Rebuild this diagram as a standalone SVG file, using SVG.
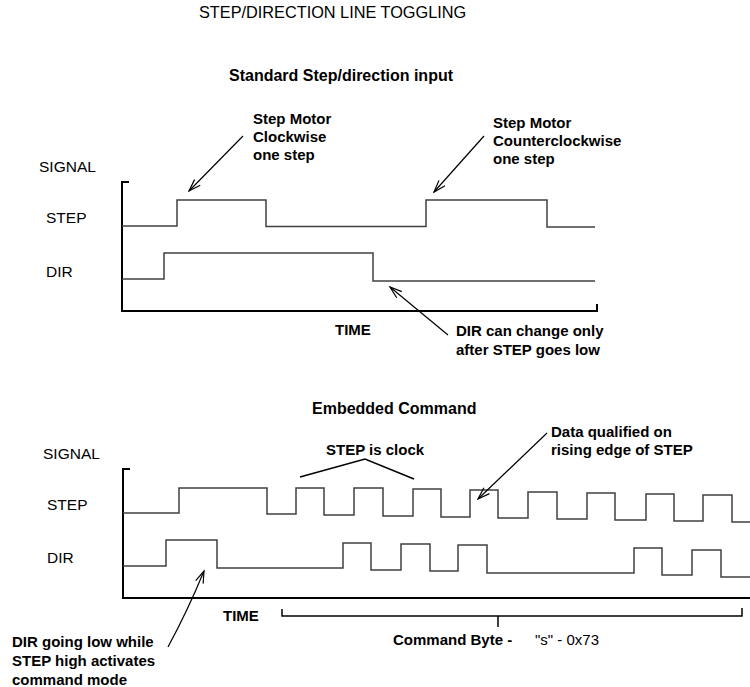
<svg xmlns="http://www.w3.org/2000/svg" width="750" height="687" viewBox="0 0 750 687">
<defs>
<style>
.t{font-family:"Liberation Sans",Arial,sans-serif;fill:#000}
.reg{font-size:15.5px}
.ttl{font-size:16.3px}
.hd{font-size:16px;font-weight:bold}
.an{font-size:15px;font-weight:bold}
.axis{fill:none;stroke:#000;stroke-width:2}
.sig{fill:none;stroke:#404040;stroke-width:1.5}
.arr{fill:none;stroke:#000;stroke-width:1.2;marker-end:url(#ah)}
.br{fill:none;stroke:#000;stroke-width:1.5}
</style>
<marker id="ah" viewBox="-13 -6 15 12" refX="0" refY="0" markerWidth="15" markerHeight="12" markerUnits="userSpaceOnUse" orient="auto">
<path d="M-12,-4 L0,0 L-12,4" fill="none" stroke="#000" stroke-width="1.2"/>
</marker>
</defs>
<rect width="750" height="687" fill="#fff"/>

<g id="title"><text class="t ttl" x="199" y="18">STEP/DIRECTION LINE TOGGLING</text></g>

<g id="standard-heading"><text class="t hd" x="229" y="81">Standard Step/direction input</text></g>

<g id="top-labels">
<text class="t reg" x="39" y="172">SIGNAL</text>
<text class="t reg" x="46" y="223">STEP</text>
<text class="t reg" x="46" y="277">DIR</text>
<text class="t an" x="335" y="335">TIME</text>
</g>

<g id="top-axes">
<path class="axis" d="M129,182 H122 V311 H597 V304"/>
</g>

<g id="top-step">
<path class="sig" d="M122,226 H177 V200 H266 V226.5 H426 V200 H547 V227 H595"/>
</g>

<g id="top-dir">
<path class="sig" d="M122,279 H164 V253 H373 V281 H595"/>
</g>

<g id="note-cw">
<text class="t an" x="253" y="124">Step Motor</text>
<text class="t an" x="253" y="142">Clockwise</text>
<text class="t an" x="253" y="160">one step</text>
</g>

<g id="note-ccw">
<text class="t an" x="493" y="128">Step Motor</text>
<text class="t an" x="493" y="146">Counterclockwise</text>
<text class="t an" x="493" y="164">one step</text>
</g>

<g id="note-dir">
<text class="t an" x="456" y="336">DIR can change only</text>
<text class="t an" x="456" y="355">after STEP goes low</text>
</g>

<g id="embedded-heading"><text class="t hd" x="312" y="414">Embedded Command</text></g>

<g id="bottom-labels">
<text class="t reg" x="43" y="459">SIGNAL</text>
<text class="t reg" x="47" y="510">STEP</text>
<text class="t reg" x="47" y="563">DIR</text>
<text class="t an" x="223" y="621">TIME</text>
</g>

<g id="bottom-axes">
<path class="axis" d="M130,469 H123 V598 H750"/>
</g>

<g id="bottom-step">
<path class="sig" d="M123,513 H179 V488 H267 V514 H296 V488 H324 V515 H354 V488 H383 V516 H413 V489 H441 V517 H470 V490 H498 V518 H528 V492 H557 V519 H587 V493 H615 V520 H646 V494 H674 V521 H703 V495 H732 V522 H750"/>
</g>

<g id="bottom-dir">
<path class="sig" d="M123,566 H166 V540 H217 V568 H343 V543 H371 V570 H401 V544 H430 V571 H458 V545 H487 V573 H634 V548 H662 V575 H692 V550 H721 V577 H750"/>
</g>

<g id="note-clock">
<text class="t an" x="326" y="455">STEP is clock</text>
<path class="br" d="M300,477 L365,459 L414,479"/>
</g>

<g id="note-data">
<text class="t an" x="551" y="437">Data qualified on</text>
<text class="t an" x="551" y="455">rising edge of STEP</text>
</g>

<g id="note-cmdmode">
<text class="t an" x="12" y="647">DIR going low while</text>
<text class="t an" x="12" y="666">STEP high activates</text>
<text class="t an" x="12" y="685">command mode</text>
</g>

<g id="command-byte">
<path class="br" d="M282,609 V616 H742 V608 M498,616 V627"/>
<text class="t an" x="393" y="645">Command Byte -</text>
<text class="t" style="font-size:15px" x="535" y="645">"s" - 0x73</text>
</g>

<g id="connectors">
<path class="arr" d="M243,136 L189,191"/>
<path class="arr" d="M484,136 L434,192"/>
<path class="arr" d="M448,335 L390,287"/>
<path class="arr" d="M547,433 L478,499"/>
<path class="arr" d="M168,647 Q188,610 204,571"/>
</g>
</svg>
